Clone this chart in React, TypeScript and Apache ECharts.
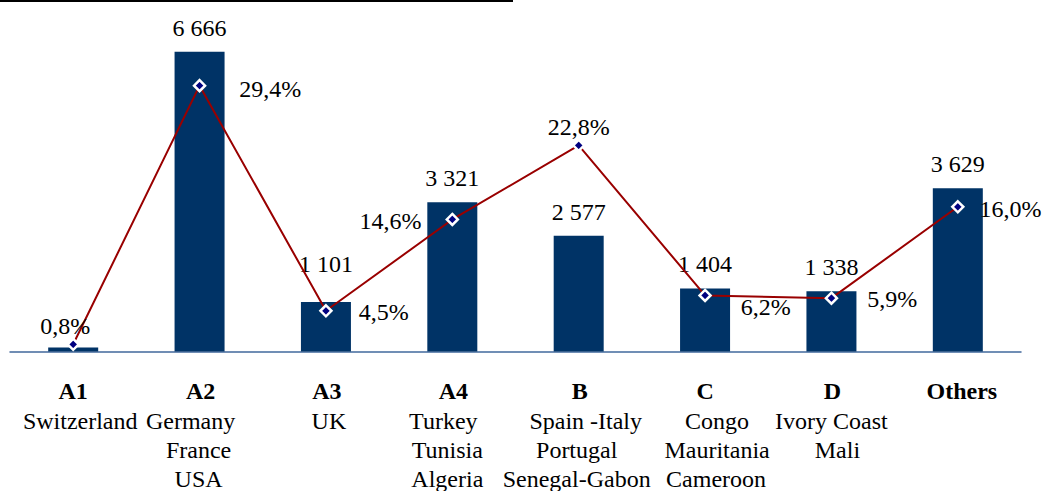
import React, { useEffect, useRef } from "react";
import * as echarts from "echarts";

const categories = ["A1", "A2", "A3", "A4", "B", "C", "D", "Others"];
const countries = [
  ["Switzerland"],
  ["Germany", "France", "USA"],
  ["UK"],
  ["Turkey", "Tunisia", "Algeria"],
  ["Spain -Italy", "Portugal", "Senegal-Gabon"],
  ["Congo", "Mauritania", "Cameroon"],
  ["Ivory Coast", "Mali"],
  [],
];
const amounts = [90, 6666, 1101, 3321, 2577, 1404, 1338, 3629];
const showAmountLabel = [false, true, true, true, true, true, true, true];
const shares = [0.8, 29.4, 4.5, 14.6, 22.8, 6.2, 5.9, 16.0];

const FONT = "Liberation Serif";

// horizontal nudges of label lines (style only)
const titleShift = [0, 1, 1, 1, 1, 0, 1, 4];
const lineShift = [
  [7],
  [-9, -1, -1],
  [3],
  [-9, -5, -5],
  [7, -2, -2],
  [12, 12, 11],
  [0, 6],
  [],
];

const fmtAmount = (v: number) => String(v).replace(/\B(?=(\d{3})+(?!\d))/g, " ");
const fmtShare = (v: number) => v.toFixed(1).replace(".", ",") + "%";

// label placements for share labels (style only)
const shareLabelPos: any[] = [
  { position: "top", distance: 0, offset: [-8, 0] },
  { position: "right", distance: 33, offset: [0, 3] },
  { position: "right", distance: 26, offset: [0, 1] },
  { position: "left", distance: 24, offset: [0, 2] },
  { position: "top", distance: 0, offset: [0, 0] },
  { position: "right", distance: 29, offset: [0, 12] },
  { position: "right", distance: 29, offset: [0, 1] },
  { position: "right", distance: 15, offset: [0, 2] },
];
const amountLabelDist = [12, 12, 26, 12, 12, 12, 12, 12];

const pad = (s: number) => (s >= 0 ? [0, 0, 0, 2 * s] : [0, -2 * s, 0, 0]);

export default function App() {
  const ref = useRef<HTMLDivElement>(null);
  useEffect(() => {
    if (!ref.current) return;
    const chart = echarts.init(ref.current, null, { renderer: "svg" });
    const rich: any = {};
    categories.forEach((_, i) => {
      rich[`t${i}`] = {
        fontFamily: FONT, fontSize: 24, fontWeight: "bold", lineHeight: 32, color: "#000",
        padding: pad(titleShift[i]),
      };
      countries[i].forEach((_, j) => {
        rich[`n${i}_${j}`] = {
          fontFamily: FONT, fontSize: 24, lineHeight: 29, color: "#000",
          padding: pad(lineShift[i][j]),
        };
      });
    });
    chart.setOption({
      animation: false,
      backgroundColor: "#ffffff",
      textStyle: { fontFamily: FONT },
      grid: { left: 10, right: 24, top: 35, bottom: 138 },
      graphic: [
        { type: "rect", left: 0, top: 0, shape: { width: 513, height: 2 }, style: { fill: "#000000" } },
      ],
      xAxis: {
        type: "category",
        data: categories,
        offset: 3,
        axisLine: { lineStyle: { color: "#41689c", width: 1.5 } },
        axisTick: { show: false },
        axisLabel: {
          interval: 0,
          margin: 20,
          color: "#000",
          fontFamily: FONT,
          formatter: (v: string, i: number) => {
            const lines = [`{t${i}|${v}}`].concat(countries[i].map((c, j) => `{n${i}_${j}|${c}}`));
            return lines.join("\n");
          },
          rich,
        },
      },
      yAxis: [
        { type: "value", min: 0, max: 7040, show: false, splitLine: { show: false } },
        { type: "value", min: 0, max: 35, show: false, splitLine: { show: false } },
      ],
      series: [
        {
          type: "bar",
          barWidth: 50,
          itemStyle: { color: "#003366" },
          label: { fontFamily: FONT, fontSize: 24, color: "#000" },
          data: amounts.map((v, i) => ({
            value: v,
            label: {
              show: showAmountLabel[i],
              position: "top",
              distance: amountLabelDist[i],
              formatter: () => fmtAmount(v),
              fontFamily: FONT,
              fontSize: 24,
              color: "#000",
            },
          })),
        },
        {
          type: "line",
          yAxisIndex: 1,
          symbol: "diamond",
          symbolSize: 11,
          itemStyle: { color: "#000080", borderColor: "#ffffff", borderWidth: 2.5 },
          lineStyle: { color: "#990000", width: 2 },
          label: { fontFamily: FONT, fontSize: 24, color: "#000" },
          data: shares.map((v, i) => ({
            value: v,
            label: {
              show: true,
              ...shareLabelPos[i],
              formatter: () => fmtShare(v),
              fontFamily: FONT,
              fontSize: 24,
              color: "#000",
            },
          })),
          z: 5,
        },
      ],
    });
    return () => chart.dispose();
  }, []);
  return (
    <div
      ref={ref}
      style={{ position: "fixed", left: 0, top: 0, width: 1045, height: 491, background: "#fff" }}
    />
  );
}
